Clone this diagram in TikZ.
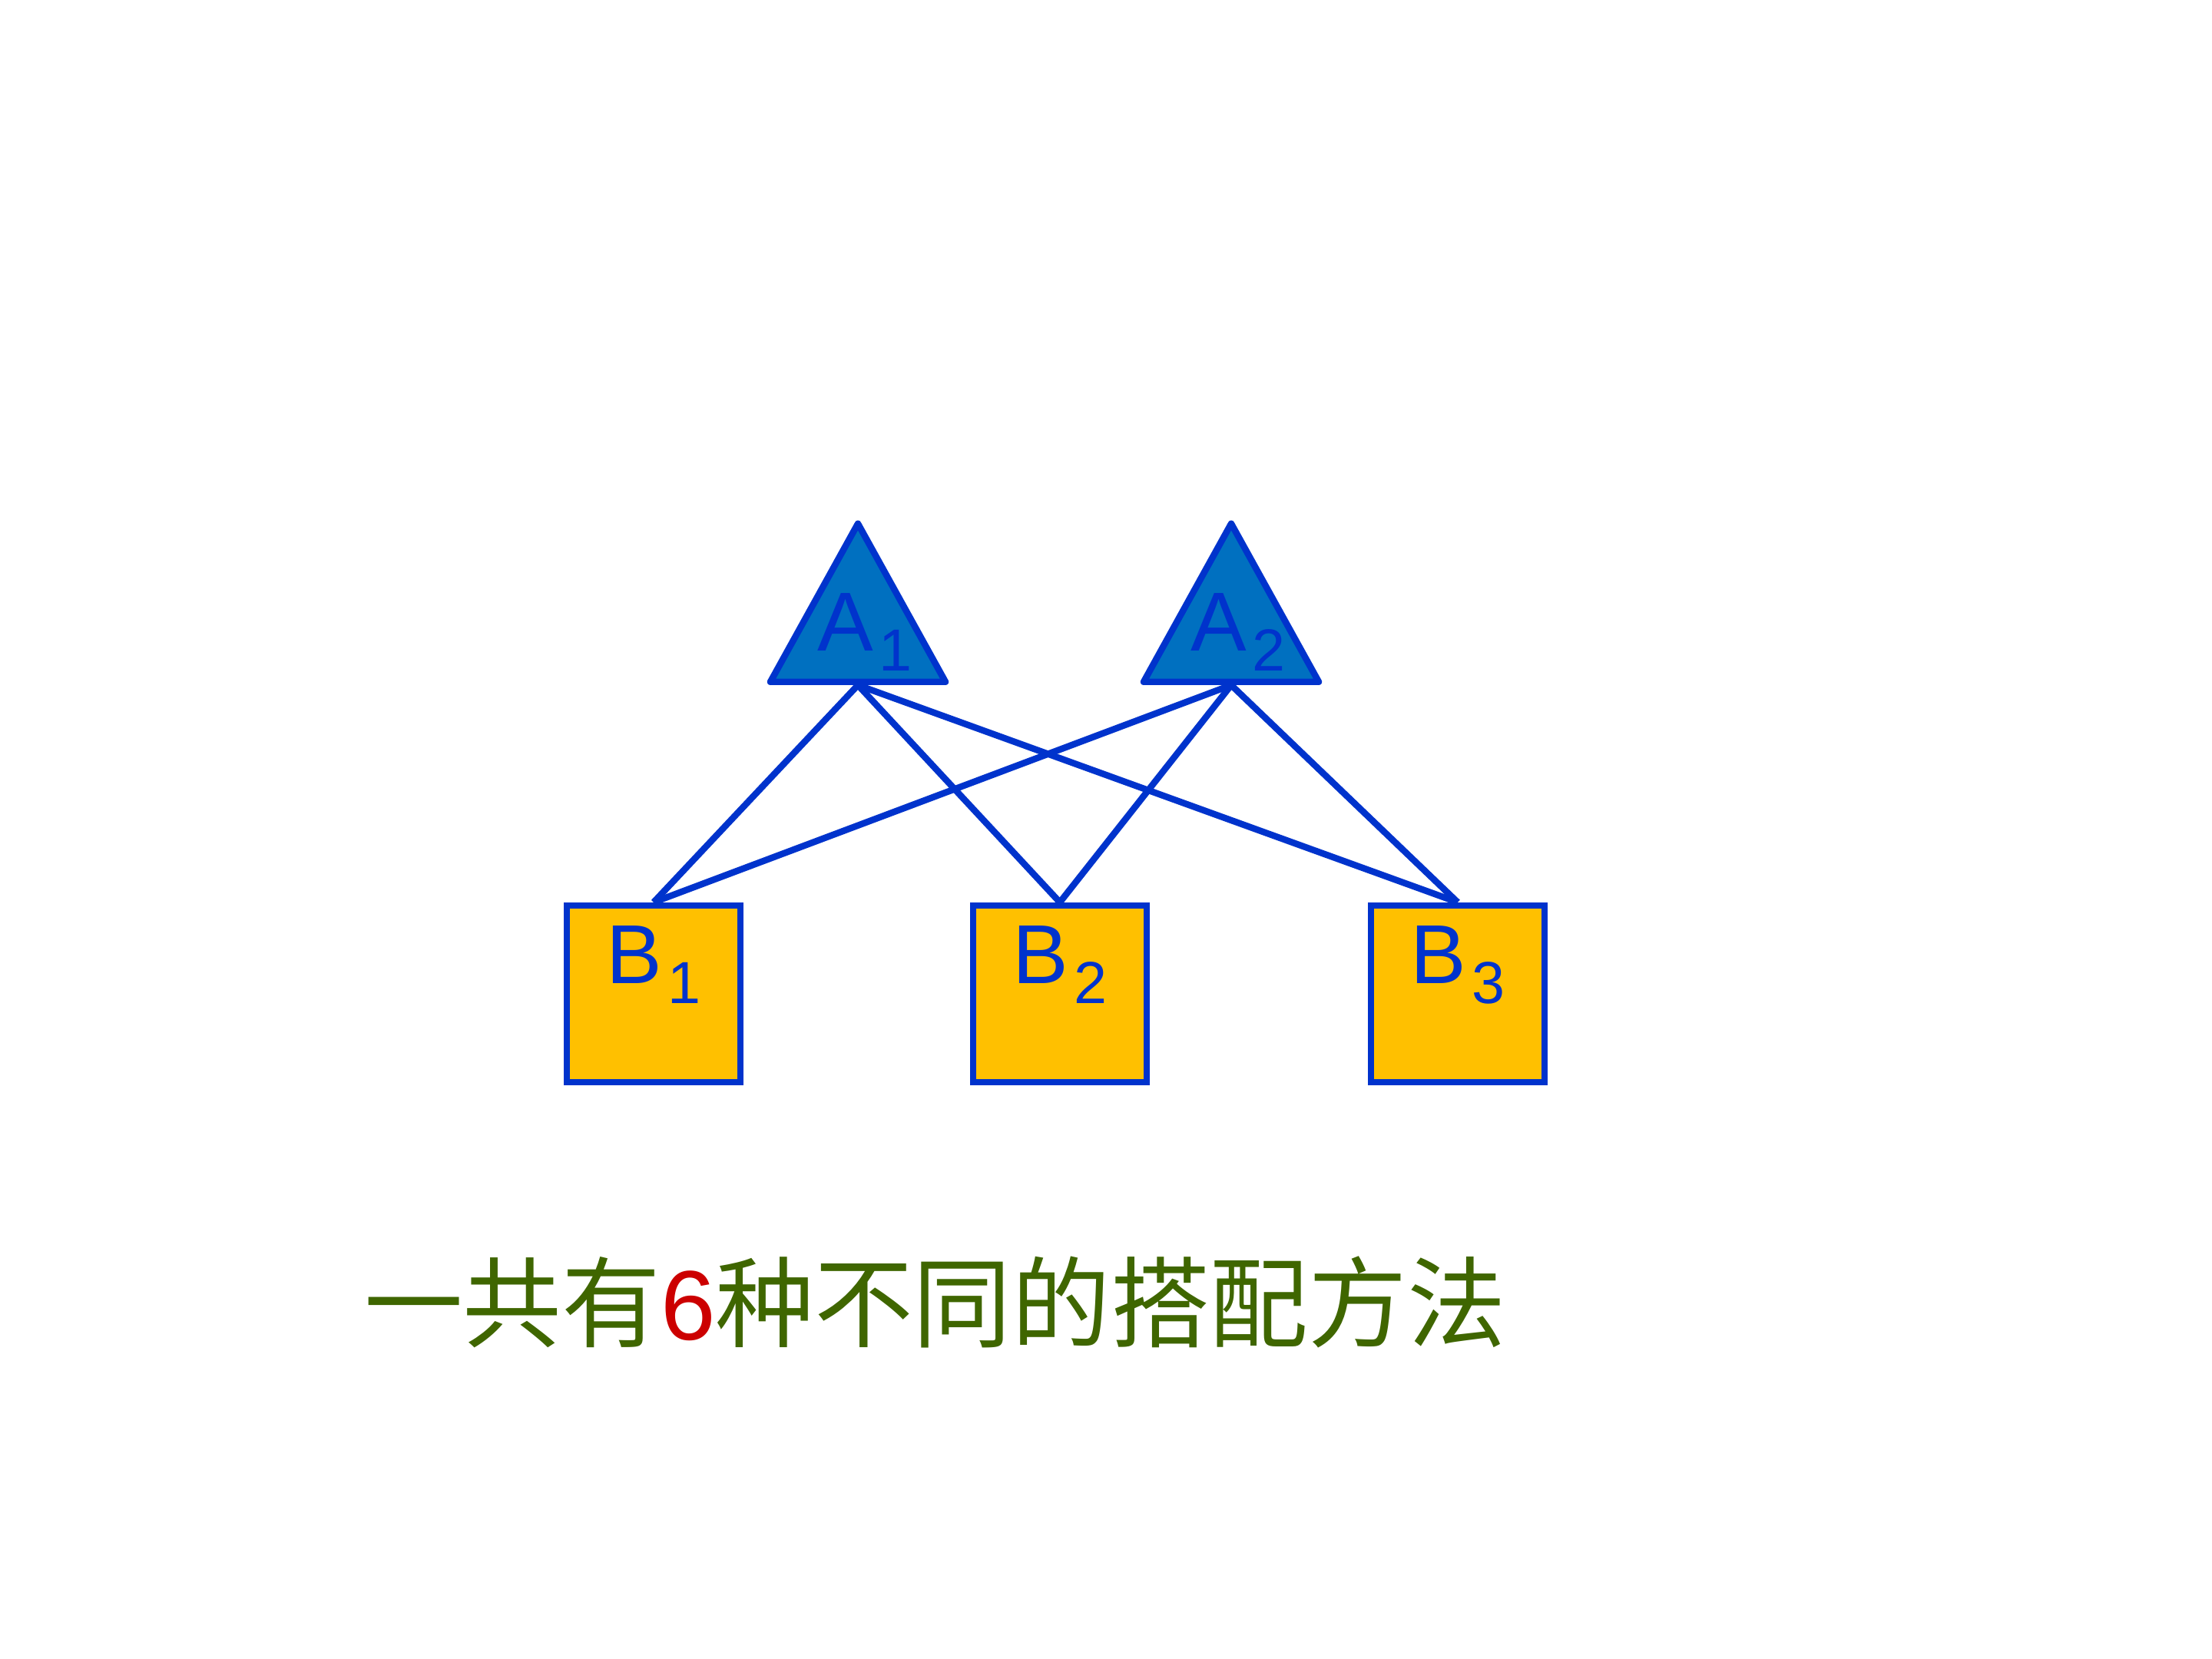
\documentclass[tikz,border=0pt]{standalone}
\usepackage{fontspec}
\setmainfont{Liberation Sans}
\newfontfamily\cjk{Noto Sans CJK SC}
\usepackage{tikz}
\usetikzlibrary{positioning,shapes.geometric}
\definecolor{edgeblue}{HTML}{0033CC}
\definecolor{triblue}{HTML}{0070C0}
\definecolor{boxgold}{HTML}{FFC000}
\definecolor{sumgreen}{HTML}{3F6600}
\definecolor{sixred}{HTML}{CC0000}
\newcommand{\idx}[1]{\hspace{.08cm}\raisebox{-.26cm}{\fontsize{22}{22}\selectfont #1}}

\begin{document}
\begin{tikzpicture}[line width=2.4pt,
   tri/.style={draw=edgeblue,fill=triblue,isosceles triangle,shape border rotate=90,
     isosceles triangle stretches,minimum width=2.28cm,minimum height=2.06cm,inner sep=0pt,line join=round},
   box/.style={draw=edgeblue,fill=boxgold,minimum width=2.26cm,minimum height=2.3cm,inner sep=0pt},
   lbl/.style={text=edgeblue,font=\fontsize{31}{31}\selectfont,anchor=base,inner sep=0pt}]
  \useasboundingbox (0,0) rectangle (28.8,-21.6);
  \node[tri,anchor=south] (A1) at (11.17,-8.92) {};
  \node[tri,anchor=south] (A2) at (16.03,-8.92) {};
  \node[box] (B1) at (8.51,-12.94) {};
  \node[box,right=2.945cm of B1] (B2) {};
  \node[box,right=2.835cm of B2] (B3) {};
  \node[lbl] (a1t) at ([shift={(.09,.44)}]A1.south) {A\idx{1}};
  \node[lbl] (a2t) at ([shift={(.09,.44)}]A2.south) {A\idx{2}};
  \node[lbl] (b1t) at ([yshift=-1.06cm]B1.north) {B\idx{1}};
  \node[lbl] (b2t) at ([yshift=-1.06cm]B2.north) {B\idx{2}};
  \node[lbl] (b3t) at ([yshift=-1.06cm]B3.north) {B\idx{3}};
  \foreach \a in {A1,A2}
    \foreach \b in {B1,B2,B3}
      \draw[edgeblue] (\a.south) -- (\b.north);
  \node[anchor=base west,inner sep=0pt,text=sumgreen,font=\fontsize{36.6}{37}\selectfont\cjk] (sum)
    at (4.7,-17.44) {一共有{\color{sixred}\rmfamily 6}种不同的搭配方法};
\end{tikzpicture}
\end{document}
